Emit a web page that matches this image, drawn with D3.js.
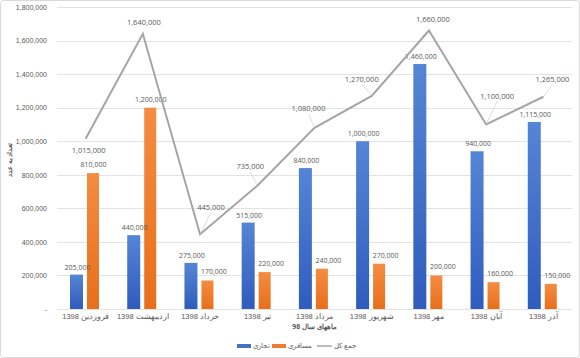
<!DOCTYPE html>
<html><head><meta charset="utf-8">
<script src="https://cdn.jsdelivr.net/npm/d3@7"></script>
<style>
html,body{margin:0;padding:0;background:#fff;}
svg{display:block;font-family:"Open Sans","Liberation Sans",sans-serif;}
</style></head>
<body>
<script>
const months = ["فروردین","اردیبهشت","خرداد","تیر","مرداد","شهریور","مهر","آبان","آذر"];
const year = "1398";
const commercial = [205000,440000,275000,515000,840000,1000000,1460000,940000,1115000];
const passenger = [810000,1200000,170000,220000,240000,270000,200000,160000,150000];
const total = [1015000,1640000,445000,735000,1080000,1270000,1660000,1100000,1265000];
const yTicks = [0,200000,400000,600000,800000,1000000,1200000,1400000,1600000,1800000];
const seriesNames = ["تجاری","مسافری","جمع کل"];
const xTitle = "ماههای سال 98";
const yTitle = "تعداد به عدد";

// label offsets for total line labels (layout only)
const totalLabelOffsets = [[3,12],[1,-11],[11,-27],[-7,-19],[-6,-19],[-10,-17],[4,-11],[11,-28],[9,-17]];

const W=580,H=358;
const m={l:57,r:8,t:7,b:49};
const svg=d3.select("body").append("svg").attr("width",W).attr("height",H);

const defs=svg.append("defs");
function grad(id,c1,c2){
  const g=defs.append("linearGradient").attr("id",id).attr("x1",0).attr("y1",0).attr("x2",0).attr("y2",1);
  g.append("stop").attr("offset","0%").attr("stop-color",c1);
  g.append("stop").attr("offset","100%").attr("stop-color",c2);
}
grad("gBlue","#5585d6","#2f5cbd");
grad("gOrange","#f48c42","#e86f1a");

svg.append("rect").attr("x",0.5).attr("y",0.5).attr("width",W-1).attr("height",H-1).attr("rx",3)
  .attr("fill","#fff").attr("stroke","#d9d9d9");

const x=d3.scaleBand().domain(d3.range(months.length)).range([m.l,W-m.r]).paddingInner(0).paddingOuter(0);
const y=d3.scaleLinear().domain([0,1800000]).range([H-m.b,m.t]);
const cx=i=>x(i)+x.bandwidth()/2;

// gridlines
svg.append("g").selectAll("line").data(yTicks).join("line")
  .attr("x1",m.l).attr("x2",W-m.r).attr("y1",d=>Math.round(y(d))+0.5).attr("y2",d=>Math.round(y(d))+0.5)
  .attr("stroke","#e3e3e3").attr("stroke-width",1);

// y axis labels
const fmt=d3.format(",");
const yAxis=d3.axisLeft(y).tickValues(yTicks).tickSize(0).tickPadding(10)
  .tickFormat(d=>d===0?"-":fmt(d));
const ya=svg.append("g").attr("transform",`translate(${m.l},0)`).call(yAxis);
ya.select(".domain").remove();
ya.selectAll("text").attr("fill","#595959").attr("font-size",7);

// x axis labels
const xAxis=d3.axisBottom(x).tickSize(0).tickPadding(5).tickFormat(i=>year+" "+months[i]);
const xa=svg.append("g").attr("transform",`translate(0,${H-m.b})`).call(xAxis);
xa.select(".domain").remove();
xa.selectAll("text").attr("fill","#595959").attr("font-size",7.5);

const bw=13, bOff1=13, bOff2=30;
// bars
svg.append("g").selectAll("rect").data(commercial).join("rect")
  .attr("x",(d,i)=>x(i)+bOff1).attr("width",bw)
  .attr("y",d=>y(d)).attr("height",d=>y(0)-y(d)).attr("fill","url(#gBlue)");
svg.append("g").selectAll("rect").data(passenger).join("rect")
  .attr("x",(d,i)=>x(i)+bOff2).attr("width",bw-1)
  .attr("y",d=>y(d)).attr("height",d=>y(0)-y(d)).attr("fill","url(#gOrange)");

// bar labels
svg.append("g").selectAll("text").data(commercial).join("text")
  .attr("x",(d,i)=>x(i)+bOff1+bw/2+1).attr("y",d=>y(d)-5)
  .attr("text-anchor","middle").attr("font-size",7).attr("fill","#595959").text(d=>fmt(d));
svg.append("g").selectAll("text").data(passenger).join("text")
  .attr("x",(d,i)=>x(i)+bOff2+bw/2+(i>=2?6:0)).attr("y",d=>y(d)-6)
  .attr("text-anchor","middle").attr("font-size",7).attr("fill","#595959").text(d=>fmt(d));

// total line
const line=d3.line().x((d,i)=>cx(i)).y(d=>y(d));
svg.append("path").datum(total).attr("d",line).attr("fill","none").attr("stroke","#a5a5a5").attr("stroke-width",2);

// leader lines
const leaders=total.map((d,i)=>({i,d,o:totalLabelOffsets[i]})).filter(e=>Math.abs(e.o[1])>15);
svg.append("g").selectAll("line").data(leaders).join("line")
  .attr("x1",e=>cx(e.i)).attr("y1",e=>y(e.d))
  .attr("x2",e=>cx(e.i)+e.o[0]).attr("y2",e=>y(e.d)+e.o[1]+5)
  .attr("stroke","#c8c8c8").attr("stroke-width",0.6);

svg.append("g").selectAll("text").data(total).join("text")
  .attr("x",(d,i)=>cx(i)+totalLabelOffsets[i][0])
  .attr("y",(d,i)=>y(d)+totalLabelOffsets[i][1])
  .attr("dy","0.35em").attr("text-anchor","middle").attr("font-size",7.5).attr("fill","#595959").text(d=>fmt(d));

// axis titles
svg.append("text").attr("x",(m.l+W-m.r)/2).attr("y",329).attr("text-anchor","middle")
  .attr("font-size",7).attr("font-weight","bold").attr("fill","#595959").text(xTitle);
svg.append("text").attr("transform","translate(12,160) rotate(-90)").attr("text-anchor","middle")
  .attr("font-size",6.5).attr("font-weight","bold").attr("fill","#595959").text(yTitle);

// legend
const lg=svg.append("g").attr("transform","translate(0,346)");
const items=[{n:seriesNames[0],t:"rect",c:"#4472c4",x:237},{n:seriesNames[1],t:"rect",c:"#ed7d31",x:272},{n:seriesNames[2],t:"line",c:"#a5a5a5",x:317}];
items.forEach(it=>{
  if(it.t==="rect") lg.append("rect").attr("x",it.x).attr("y",-2).attr("width",14).attr("height",4).attr("fill",it.c);
  else lg.append("line").attr("x1",it.x).attr("x2",it.x+15).attr("y1",0).attr("y2",0).attr("stroke",it.c).attr("stroke-width",1.5);
  lg.append("text").attr("x",it.x+(it.t==="rect"?16:17)).attr("y",0).attr("dy","0.35em").attr("font-size",6.5).attr("fill","#595959").text(it.n);
});
</script>
</body></html>
